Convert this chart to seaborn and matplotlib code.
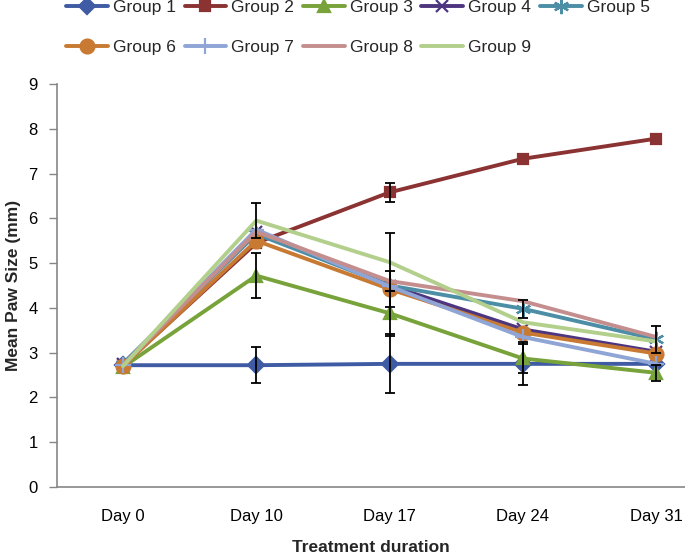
"""Mean paw size over treatment duration for nine groups."""

import numpy as np
import pandas as pd
import matplotlib
matplotlib.use("Agg")
import matplotlib.pyplot as plt
import seaborn as sns

# Data
days = ["Day 0", "Day 10", "Day 17", "Day 24", "Day 31"]
groups = ["Group 1", "Group 2", "Group 3", "Group 4", "Group 5",
          "Group 6", "Group 7", "Group 8", "Group 9"]

group1 = [2.72, 2.72, 2.75, 2.75, 2.75]
group2 = [2.72, 5.45, 6.58, 7.33, 7.78]
group3 = [2.68, 4.72, 3.88, 2.87, 2.55]
group4 = [2.75, 5.70, 4.50, 3.52, 3.02]
group5 = [2.75, 5.65, 4.50, 3.98, 3.30]
group6 = [2.70, 5.50, 4.42, 3.45, 2.98]
group7 = [2.72, 5.75, 4.48, 3.35, 2.75]
group8 = [2.72, 5.70, 4.60, 4.15, 3.35]
group9 = [2.70, 5.95, 5.02, 3.68, 3.25]

# Error bar half-widths (NaN = no bar shown)
err1 = [np.nan, 0.40, 0.66, 0.48, np.nan]
err2 = [np.nan, np.nan, 0.22, np.nan, np.nan]
err3 = [np.nan, 0.50, 0.50, 0.33, 0.18]
err5 = [np.nan, np.nan, np.nan, 0.20, 0.30]
err6 = [np.nan, np.nan, 0.40, np.nan, np.nan]
err9 = [np.nan, 0.40, 0.65, np.nan, np.nan]

values = [group1, group2, group3, group4, group5, group6, group7, group8, group9]
errors = {"Group 1": err1, "Group 2": err2, "Group 3": err3,
          "Group 5": err5, "Group 6": err6, "Group 9": err9}

colors = ["#3F5BA3", "#8B3232", "#78A23A", "#4E3580", "#4B8EA6",
          "#C87A33", "#8FA5D6", "#C48E8E", "#B3CF8C"]
asterisk = (6, 2, 0)
markers = ["D", "s", "^", "x", asterisk, "o", "+", "None", "None"]
msizes = [8, 6.5, 9, 8, 11, 10, 12, 0, 0]

sns.set_theme(style="white")
plt.rcParams["font.family"] = ["Liberation Sans", "DejaVu Sans"]

fig = plt.figure(figsize=(6.85, 5.53), dpi=100)
ax = fig.add_axes([57 / 685, 1 - 487 / 553, 1 - 57 / 685, (487 - 84) / 553])

x_pos = np.arange(len(days))
for i, (name, vals) in enumerate(zip(groups, values)):
    df = pd.DataFrame({"x": x_pos, "y": vals})
    sns.lineplot(data=df, x="x", y="y", ax=ax, color=colors[i], linewidth=2.8,
                 marker=markers[i], markersize=msizes[i],
                 markeredgecolor=colors[i], markeredgewidth=1.6,
                 zorder=2 + i, label=name)

for name, err in errors.items():
    vals = values[groups.index(name)]
    ax.errorbar(x_pos, vals, yerr=err, fmt="none", ecolor="black",
                elinewidth=1.3, capsize=3.5, capthick=1.3, zorder=20)

ax.set_xlim(-0.495, 4.216)
ax.set_ylim(0, 9)
ax.set_yticks(range(0, 10))
ax.set_xticks(x_pos)
ax.set_xticklabels(days)
ax.tick_params(axis="x", length=0, pad=16, labelsize=12, colors="black")
ax.tick_params(axis="y", length=6, width=1, direction="out", left=True,
               labelsize=12, colors="#868686", labelcolor="black", pad=8)

for side in ["top", "right"]:
    ax.spines[side].set_visible(False)
for side in ["left", "bottom"]:
    ax.spines[side].set_color("#868686")
    ax.spines[side].set_linewidth(1.2)

ax.set_xlabel("Treatment duration", fontsize=12.5, fontweight="bold", labelpad=11)
ax.set_ylabel("Mean Paw Size (mm)", fontsize=12.5, fontweight="bold", labelpad=5)

# Legend filled row by row: 5 columns, 2 rows
h, l = ax.get_legend_handles_labels()
ax.get_legend().remove()
order = [0, 5, 1, 6, 2, 7, 3, 8, 4]
fig.legend([h[k] for k in order], [l[k] for k in order], loc="upper left",
           bbox_to_anchor=(66 / 685, 1.0), ncol=5, frameon=False, fontsize=12.5,
           borderpad=0, borderaxespad=0,
           handlelength=2.4, handletextpad=0.3, columnspacing=0.5,
           labelspacing=1.4)

fig.savefig("out.png", dpi=100)
